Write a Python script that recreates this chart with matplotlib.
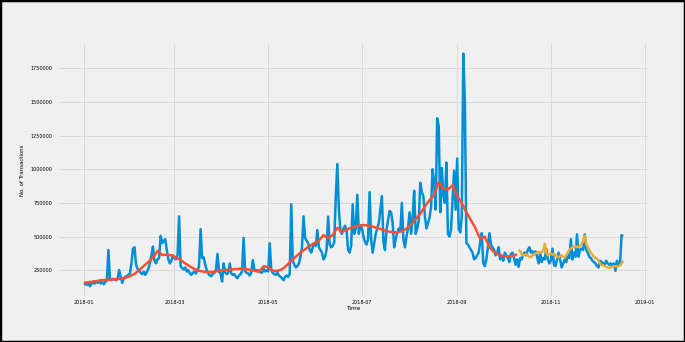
import matplotlib
matplotlib.use("Agg")
import matplotlib.pyplot as plt
import matplotlib.dates as mdates
from matplotlib.patches import Rectangle
import pandas as pd

# daily transactions (thousands), 2018-01-01 .. 2018-12-18
jan = [150, 145, 140, 155, 130, 150, 160, 150, 165, 155, 170, 150, 160, 145, 165, 170,
       400, 180, 175, 185, 180, 175, 190, 250, 200, 155, 190, 200, 205, 215, 225]
feb = [300, 410, 420, 290, 260, 245, 230, 220, 240, 215, 235, 260, 300, 360, 425, 320,
       300, 330, 340, 505, 450, 470, 480, 400, 330, 300, 320, 360]
mar = [340, 330, 360, 650, 280, 265, 255, 270, 240, 250, 225, 215, 230, 240, 225, 250,
       280, 555, 340, 345, 290, 250, 225, 210, 205, 225, 230, 250, 370, 240, 225]
apr = [165, 300, 235, 220, 230, 300, 225, 215, 220, 200, 190, 210, 220, 240, 490, 240,
       230, 225, 210, 230, 325, 255, 245, 250, 240, 235, 230, 260, 240, 250]
may = [240, 450, 250, 230, 220, 215, 230, 210, 200, 190, 175, 200, 210, 200, 220, 740,
       320, 290, 270, 280, 300, 350, 420, 650, 490, 470, 450, 400, 380, 420, 450]
jun = [430, 548, 420, 400, 380, 330, 350, 400, 648, 440, 420, 430, 460, 800, 1040, 700,
       540, 520, 560, 580, 550, 400, 380, 430, 740, 520, 560, 810, 520, 580]
jul = [560, 500, 460, 440, 480, 830, 480, 380, 450, 520, 560, 600, 700, 800, 460, 400,
       550, 620, 690, 680, 600, 420, 480, 530, 560, 540, 750, 480, 420, 500, 560]
aug = [680, 520, 640, 840, 520, 560, 620, 900, 830, 800, 650, 560, 600, 640, 720, 1000,
       900, 700, 1380, 1320, 680, 1010, 800, 750, 1050, 520, 500, 550, 780, 990, 700]
sep = [1080, 560, 530, 650, 1860, 1500, 450, 440, 420, 400, 380, 330, 340, 360, 380, 460,
       525, 300, 280, 330, 420, 525, 440, 420, 400, 360, 380, 420, 330, 350]
oct_ = [320, 380, 360, 340, 310, 370, 380, 340, 290, 330, 275, 340, 330, 370, 380, 360,
        400, 420, 380, 390, 370, 390, 350, 300, 380, 310, 340, 330, 410, 330, 300]
nov = [320, 410, 290, 280, 330, 380, 330, 270, 300, 330, 310, 360, 340, 480, 330, 380,
       350, 516, 350, 400, 410, 400, 516, 400, 380, 350, 340, 320, 310, 300]
dec = [280, 270, 320, 310, 300, 290, 320, 300, 290, 300, 280, 300, 245, 320, 280, 300,
       510, 500]
actual = jan + feb + mar + apr + may + jun + jul + aug + sep + oct_ + nov + dec

# smoothed trend, every 3 days from 2018-01-01
trend = [155, 160, 165, 170, 175, 178, 180, 182, 185, 192, 205, 222, 250, 280, 310, 345,
         392, 362, 365, 360, 345, 325, 300, 278, 258, 245, 238, 235, 237, 242, 248, 252,
         255, 258, 260, 258, 252, 245, 238, 278, 272, 245, 245, 255, 285, 320, 350, 380,
         405, 430, 450, 470, 510, 490, 510, 565, 535, 550, 565, 575, 583, 585, 580, 570,
         560, 548, 538, 532, 530, 540, 558, 590, 630, 670, 725, 770, 810, 905, 855, 850,
         880, 800, 748, 680, 620, 560, 480, 500, 420, 385, 365, 355, 352, 355, 368]

# forecast, daily from 2018-10-11
forecast = [400, 390, 370, 360, 365, 370, 360, 350, 345, 360, 365, 375, 380, 385, 380, 385,
            390, 445, 380, 360, 370, 375, 365, 370, 360, 350, 345, 355, 360, 350, 345, 360,
            380, 400, 410, 420, 425, 430, 420, 425, 430, 440, 470, 505, 440, 420, 400, 380,
            365, 350, 340, 335, 320, 300, 290, 285, 280, 275, 270, 268, 270, 275, 280, 278,
            275, 280, 285, 300, 320]

actual_dates = pd.date_range("2018-01-01", periods=len(actual), freq="D")
trend_dates = pd.date_range("2018-01-01", periods=len(trend), freq="3D")
forecast_dates = pd.date_range("2018-10-11", periods=len(forecast), freq="D")

plt.style.use("fivethirtyeight")

fig = plt.figure(figsize=(6.85, 3.42), dpi=100)
ax = fig.add_axes([0.083, 0.129, 0.866, 0.748])

ax.plot(actual_dates, [v * 1000 for v in actual], color="#008fd5", linewidth=1.8)
ax.plot(trend_dates, [v * 1000 for v in trend], color="#fc4f30", linewidth=1.8)
ax.plot(forecast_dates, [v * 1000 for v in forecast], color="#e5ae38", linewidth=1.8)

ax.xaxis.set_major_locator(mdates.MonthLocator(bymonth=[1, 3, 5, 7, 9, 11]))
ax.xaxis.set_major_formatter(mdates.DateFormatter("%Y-%m"))
ax.ticklabel_format(style="plain", axis="y")

ax.grid(True, color="#d9d9d9", linewidth=0.7)
ax.tick_params(axis="x", labelsize=3.5, pad=1.5)
ax.tick_params(axis="y", labelsize=3.5, pad=3)
ax.set_xlabel("Time", fontsize=4.2, labelpad=1)
ax.set_ylabel("No. of Transactions", fontsize=3.9, labelpad=4)

fig.patches.append(Rectangle((0, 0), 1, 1, transform=fig.transFigure, fill=False,
                             edgecolor="black", linewidth=2.5))

fig.savefig("out.png", dpi=100)
